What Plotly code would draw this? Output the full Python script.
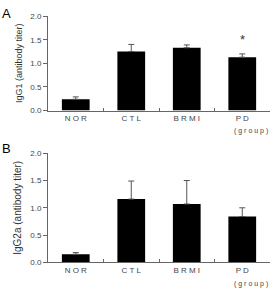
import plotly.graph_objects as go

categories = ["N O R", "C T L", "B R M I", "P D"]
igg1 = [0.24, 1.25, 1.33, 1.13]
igg1_err = [0.05, 0.15, 0.06, 0.07]
igg2a = [0.15, 1.16, 1.07, 0.84]
igg2a_err = [0.03, 0.33, 0.43, 0.16]
yticks = [0.0, 0.5, 1.0, 1.5, 2.0]
yticklabels = ["0.0", "0.5", "1.0", "1.5", "2.0"]

H = 289.0
def dom(top_px, bot_px):
    return [(H - bot_px) / H, (H - top_px) / H]

fig = go.Figure()
for vals, errs, ax in [(igg1, igg1_err, "y"), (igg2a, igg2a_err, "y2")]:
    fig.add_trace(go.Bar(
        x=categories, y=vals, yaxis=ax, xaxis="x" if ax == "y" else "x2",
        marker=dict(color="black", line=dict(width=0)), width=0.5,
        error_y=dict(type="data", array=errs, arrayminus=[0]*len(errs), symmetric=False,
                     color="#555555", thickness=1, width=3),
        showlegend=False))

base = dict(showline=True, linecolor="#666666", linewidth=1, tickcolor="#666666",
            showgrid=False, zeroline=False,
            tickfont=dict(family="Liberation Sans", size=8, color="#444444"))
xax = dict(ticks="inside", ticklen=3, tickson="boundaries", **base)
yax = dict(ticks="outside", ticklen=4, **base)
fig.update_layout(
    width=277, height=289, margin=dict(l=48, r=7, t=0, b=0),
    plot_bgcolor="white", paper_bgcolor="white", bargap=0.5,
    xaxis=dict(domain=[0, 1], anchor="y", **xax),
    xaxis2=dict(domain=[0, 1], anchor="y2", **xax),
    yaxis=dict(domain=dom(12.5, 110), range=[0, 2.0], tickvals=yticks, ticktext=yticklabels,
               anchor="x", title=dict(text="IgG1 (antibody titer)", standoff=6,
                                      font=dict(family="Liberation Sans", size=9, color="#333333")),
               **yax),
    yaxis2=dict(domain=dom(154, 266.7), range=[0, 2.0], tickvals=yticks, ticktext=yticklabels,
                anchor="x2", title=dict(text="IgG2a (antibody titer)", standoff=6,
                                        font=dict(family="Liberation Sans", size=10, color="#333333")),
                **yax),
)
fig.add_annotation(text="A", x=0, y=1 - 10/H, xref="paper", yref="paper", xanchor="left",
                   yanchor="middle", showarrow=False, xshift=-48,
                   font=dict(family="Liberation Sans", size=13, color="black"))
fig.add_annotation(text="B", x=0, y=1 - 149/H, xref="paper", yref="paper", xanchor="left",
                   yanchor="middle", showarrow=False, xshift=-48,
                   font=dict(family="Liberation Sans", size=13, color="black"))
fig.add_annotation(text="*", x="P D", y=1.30, xref="x", yref="y", yanchor="bottom",
                   showarrow=False, font=dict(family="Liberation Sans", size=13, color="#333333"))
fig.add_annotation(text="( g r o u p )", x=1, y=1 - 131/H, xref="paper", yref="paper",
                   xanchor="right", yanchor="middle", showarrow=False,
                   font=dict(family="Liberation Sans", size=7, color="#444444"))
fig.add_annotation(text="( g r o u p )", x=1, y=1 - 289/H, xref="paper", yref="paper",
                   xanchor="right", yanchor="middle", showarrow=False,
                   font=dict(family="Liberation Sans", size=7, color="#444444"))
fig.write_html("out.html")
